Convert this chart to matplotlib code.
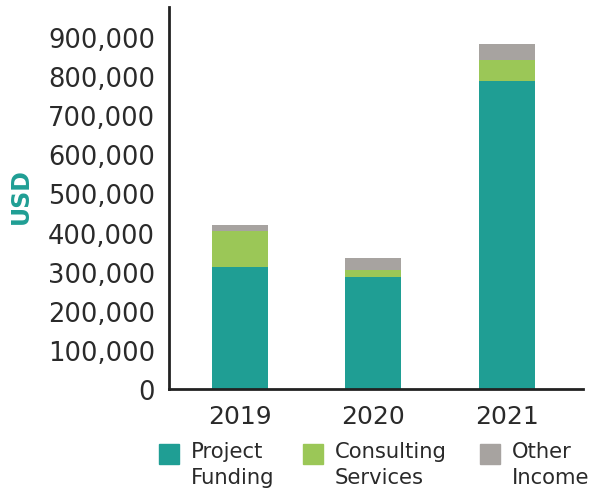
import numpy as np
import matplotlib
matplotlib.use('Agg')
import matplotlib.pyplot as plt
from matplotlib.patches import Rectangle
from matplotlib.ticker import FuncFormatter

years = ['2019', '2020', '2021']
project_funding = [313000, 285000, 787000]
consulting = [92000, 20000, 54000]
other_income = [13000, 31000, 41000]
series_names = ['Project\nFunding', 'Consulting\nServices', 'Other\nIncome']
colours = ['#1f9e94', '#9bc757', '#a7a3a0']

plt.rcParams['font.family'] = 'DejaVu Sans'

fig = plt.figure(figsize=(5.92, 4.89), dpi=100)
ax = fig.add_axes([0.2855, 0.2025, 0.6995, 0.7815])

x = np.arange(len(years))
bottom = np.zeros(len(years))
for vals, col in zip([project_funding, consulting, other_income], colours):
    ax.bar(x, vals, width=0.42, bottom=bottom, color=col)
    bottom += np.array(vals)

ax.set_xlim(-0.53, 2.57)
ax.set_ylim(0, 977000)
ax.set_yticks(np.arange(0, 900001, 100000))
ax.yaxis.set_major_formatter(FuncFormatter(lambda v, p: f'{int(v):,}'))
ax.set_xticks(x)
ax.set_xticklabels(years)
ax.tick_params(axis='y', length=0, pad=10, labelsize=18.5, labelcolor='#2a2a2a')
ax.tick_params(axis='x', length=0, pad=11, labelsize=18, labelcolor='#2a2a2a')

for s in ['top', 'right']:
    ax.spines[s].set_visible(False)
for s in ['left', 'bottom']:
    ax.spines[s].set_linewidth(2)
    ax.spines[s].set_color('#222222')

fig.text(21 / 592, 1 - 196 / 489, 'USD', rotation=90, color='#1f9e94',
         fontsize=17, fontweight='bold', ha='center', va='center')

# legend drawn by hand so the square sits with the first line of text
leg_x = [159, 303, 480]
for px, name, col in zip(leg_x, series_names, colours):
    fig.add_artist(Rectangle((px / 592, 1 - 465 / 489), 20 / 592, 20 / 489,
                             transform=fig.transFigure, color=col))
    fig.text((px + 32) / 592, 1 - 442 / 489, name, fontsize=15.2,
             color='#2a2a2a', ha='left', va='top', linespacing=1.4)

fig.savefig('out.png', dpi=100)
